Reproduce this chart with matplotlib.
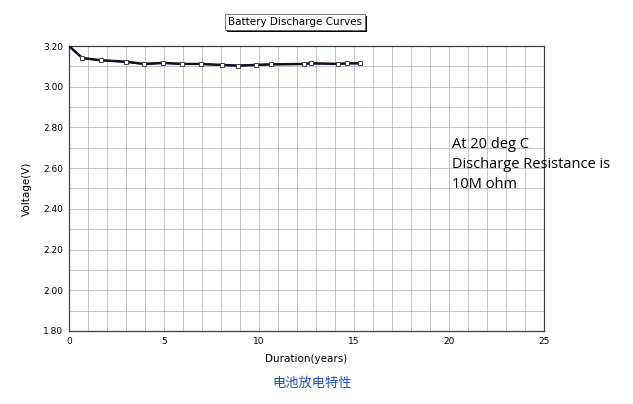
import matplotlib.pyplot as plt
import matplotlib.patheffects as pe
import numpy as np

# discharge curve
years = [0.0, 0.70, 1.67, 2.98, 3.96, 4.96, 5.93, 6.93, 8.05, 8.89, 9.83,
         10.65, 12.38, 12.75, 14.17, 14.63, 15.32]
volts = [3.20, 3.141, 3.130, 3.123, 3.112, 3.117, 3.112, 3.112, 3.107, 3.104,
         3.107, 3.110, 3.112, 3.115, 3.112, 3.115, 3.115]

x_ticks = [0, 5, 10, 15, 20, 25]
y_ticks = [1.80, 2.00, 2.20, 2.40, 2.60, 2.80, 3.00, 3.20]

fig = plt.figure(figsize=(6.33, 4.04), dpi=100)
ax = fig.add_axes([69 / 633, 1 - 331 / 404, 475 / 633, 285 / 404])

# faint coloured series hidden under the black one
ax.plot(years, np.array(volts) - 0.002, color='#2030c0', lw=1.0, zorder=3)
ax.plot(years, np.array(volts) + 0.001, color='#c02020', lw=1.0, zorder=3)
ax.plot(years, volts, color='#101020', lw=1.7, zorder=4,
        marker='s', ms=3.5, mfc='white', mec='#404040', mew=0.7,
        markevery=list(range(1, len(years))))

ax.set_xlim(0, 25)
ax.set_ylim(1.8, 3.2)
ax.set_xticks(x_ticks)
ax.set_yticks(y_ticks)
ax.set_yticklabels([f'{v:.2f}' for v in y_ticks])
ax.set_xticks(np.arange(0, 26, 1), minor=True)
ax.set_yticks(np.arange(1.8, 3.21, 0.1), minor=True)
ax.grid(which='both', color='#b4b4b4', lw=0.55)
ax.tick_params(which='both', length=0, labelsize=6.5, pad=4)
for s in ax.spines.values():
    s.set_color('#404040')
    s.set_linewidth(0.9)

ax.set_xlabel('Duration(years)', fontsize=7.5, labelpad=6)
ax.set_ylabel('Voltage(V)', fontsize=7.5, labelpad=8)

# title box with a small drop shadow
title = fig.text(295 / 633, 1 - 22 / 404, 'Battery Discharge Curves', fontsize=7.5,
                 ha='center', va='center',
                 bbox=dict(boxstyle='square,pad=0.3', fc='white', ec='#606060', lw=0.6))
title.get_bbox_patch().set_path_effects([
    pe.SimplePatchShadow(offset=(1.5, -1.5), shadow_rgbFace='black', alpha=1.0),
    pe.Normal()])

fig.text(452 / 633, 1 - 137 / 404,
         'At 20 deg C\nDischarge Resistance is\n10M ohm',
         fontsize=10.5, family='Open Sans', va='top', ha='left', linespacing=1.47)

fig.text(312 / 633, 1 - 383 / 404, '电池放电特性', fontsize=9.5, color='#1f4fc0',
         family=['Noto Sans CJK SC', 'DejaVu Sans'], ha='center', va='center')

fig.savefig('out.png', dpi=100)
